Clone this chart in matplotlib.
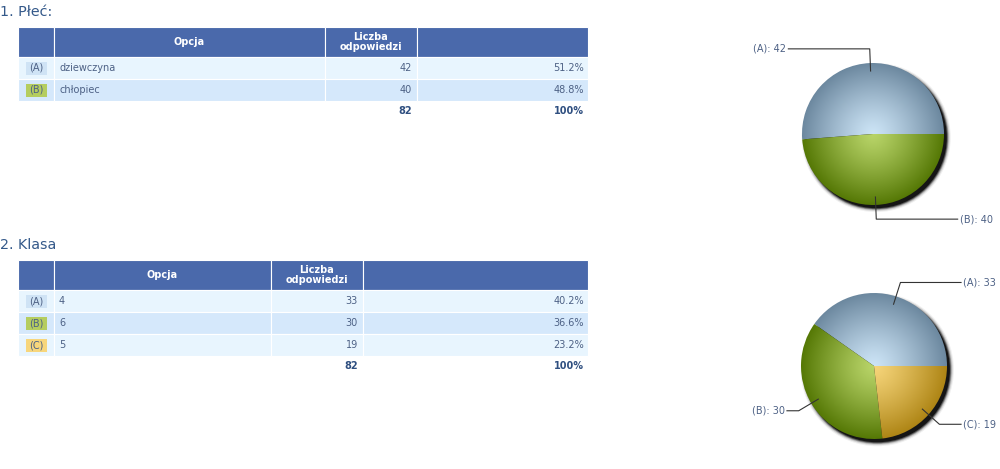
import numpy as np
import matplotlib
matplotlib.use("Agg")
import matplotlib.pyplot as plt
from matplotlib.patches import Rectangle, Circle

# ---------------- data ----------------
q1_title = "1. Płeć:"
q1_letters = ["(A)", "(B)"]
q1_options = ["dziewczyna", "chłopiec"]
q1_counts = [42, 40]
q1_pcts = ["51.2%", "48.8%"]
q1_total = "82"

q2_title = "2. Klasa"
q2_letters = ["(A)", "(B)", "(C)"]
q2_options = ["4", "6", "5"]
q2_counts = [33, 30, 19]
q2_pcts = ["40.2%", "36.6%", "23.2%"]
q2_total = "82"

header_opt = "Opcja"
header_cnt = "Liczba\nodpowiedzi"
total_pct = "100%"

# ---------------- style ----------------
W, H = 1000, 469
HEAD = "#4a69ab"
ROW_COLS = ["#e8f5fe", "#d5e8fb"]
TXT = "#4d6185"
TITLE = "#34598a"
BOX_COLS = ["#cfe3f5", "#b5cd5f", "#f7d67c"]
PIE_EDGE = [np.array([0x6c, 0x88, 0x9f]) / 255, np.array([0x55, 0x78, 0x05]) / 255,
            np.array([0xae, 0x85, 0x15]) / 255]
PIE_CENTER = [np.array([0xcc, 0xe4, 0xf6]) / 255, np.array([0xb8, 0xd4, 0x68]) / 255,
              np.array([0xf6, 0xd5, 0x7a]) / 255]

fig = plt.figure(figsize=(W / 100, H / 100), dpi=100)
fig.patch.set_facecolor("white")
ax = fig.add_axes([0, 0, 1, 1])
ax.set_xlim(0, W)
ax.set_ylim(H, 0)
ax.axis("off")

FS = 7.0


def draw_table(top, cols, letters, options, counts, pcts, total, title):
    ax.text(0, top - 15, title, fontsize=10.3, color=TITLE, va="center", ha="left")
    head_h, row_h = 30, 22
    x0, x1, x2, x3, x4 = cols
    # header
    for a, b in [(x0, x1), (x1, x2), (x2, x3), (x3, x4)]:
        ax.add_patch(Rectangle((a, top), b - a, head_h, facecolor=HEAD, edgecolor="white", lw=0.8))
    ax.text((x1 + x2) / 2, top + head_h / 2, header_opt, color="white", fontsize=FS,
            fontweight="bold", ha="center", va="center")
    ax.text((x2 + x3) / 2, top + head_h / 2, header_cnt, color="white", fontsize=FS,
            fontweight="bold", ha="center", va="center", linespacing=1.0)
    y = top + head_h
    for i, (l, o, c, p) in enumerate(zip(letters, options, counts, pcts)):
        fc = ROW_COLS[i % 2]
        for a, b in [(x0, x1), (x1, x2), (x2, x3), (x3, x4)]:
            ax.add_patch(Rectangle((a, y), b - a, row_h, facecolor=fc, edgecolor="white", lw=0.8))
        ax.add_patch(Rectangle((x0 + 8, y + 5), 21, 13, facecolor=BOX_COLS[i], edgecolor="none"))
        cy = y + row_h / 2
        ax.text(x0 + 18.5, cy, l, color=TXT, fontsize=FS, ha="center", va="center")
        ax.text(x1 + 5, cy, o, color=TXT, fontsize=FS, ha="left", va="center")
        ax.text(x3 - 5, cy, str(c), color=TXT, fontsize=FS, ha="right", va="center")
        ax.text(x4 - 4, cy, p, color=TXT, fontsize=FS, ha="right", va="center")
        y += row_h
    ax.text(x3 - 5, y + 10, total, color="#2f4f80", fontsize=FS, fontweight="bold",
            ha="right", va="center")
    ax.text(x4 - 4, y + 10, total_pct, color="#2f4f80", fontsize=FS, fontweight="bold",
            ha="right", va="center")


draw_table(27, [18, 54, 325, 417, 588], q1_letters, q1_options, q1_counts, q1_pcts, q1_total, q1_title)
draw_table(260, [18, 54, 271, 363, 588], q2_letters, q2_options, q2_counts, q2_pcts, q2_total, q2_title)


def draw_pie(cx, cy, r, counts, letters):
    half = 160
    pax = fig.add_axes([(cx - half) / W, 1 - (cy + half) / H, 2 * half / W, 2 * half / H])
    pax.axis("off")
    # shadow (soft)
    for k, a in [(1.05, 0.06), (1.035, 0.12), (1.02, 0.25), (1.008, 0.45), (0.995, 0.75)]:
        pax.add_patch(Circle((0.045, -0.05), k, facecolor="black", edgecolor="none", alpha=a, zorder=1))
    wedges, _ = pax.pie(counts, startangle=0, counterclock=True, radius=1,
                        wedgeprops=dict(facecolor="none", edgecolor="none"))
    lim = half / r
    n = 300
    g = np.linspace(-1, 1, n)
    X, Y = np.meshgrid(g, g)
    D = np.clip(np.sqrt(X ** 2 + Y ** 2), 0, 1)
    t = (D ** 1.2)[..., None]
    total = sum(counts)
    start = 0.0
    for i, w in enumerate(wedges):
        img = PIE_CENTER[i] * (1 - t) + PIE_EDGE[i] * t
        im = pax.imshow(img, extent=[-1, 1, -1, 1], origin="lower", zorder=2,
                        interpolation="bilinear")
        im.set_clip_path(w)
        # label leader
        ang = np.deg2rad(start + counts[i] / total * 360 / 2)
        start += counts[i] / total * 360
        p0 = (0.88 * np.cos(ang), 0.88 * np.sin(ang))
        p1 = (1.2 * np.cos(ang), 1.2 * np.sin(ang))
        side = 1 if np.cos(ang) >= 0 else -1
        if abs(np.cos(ang)) < 0.05:
            side = -1 if np.sin(ang) > 0 else 1
        p2 = (side * 1.2, p1[1])
        pax.plot([p0[0], p1[0], p2[0]], [p0[1], p1[1], p2[1]], color="#333333", lw=0.8,
                 zorder=3, solid_capstyle="butt")
        pax.text(p2[0] + side * 0.02, p2[1], f"{letters[i]}: {counts[i]}", color=TXT,
                 fontsize=FS, ha="left" if side > 0 else "right", va="center", zorder=3)
    pax.set_aspect("auto")
    pax.set_xlim(-lim, lim)
    pax.set_ylim(-lim, lim)


draw_pie(873, 134, 71, q1_counts, q1_letters)
draw_pie(874, 366, 73, q2_counts, q2_letters)

fig.savefig("out.png", dpi=100, facecolor="white")
